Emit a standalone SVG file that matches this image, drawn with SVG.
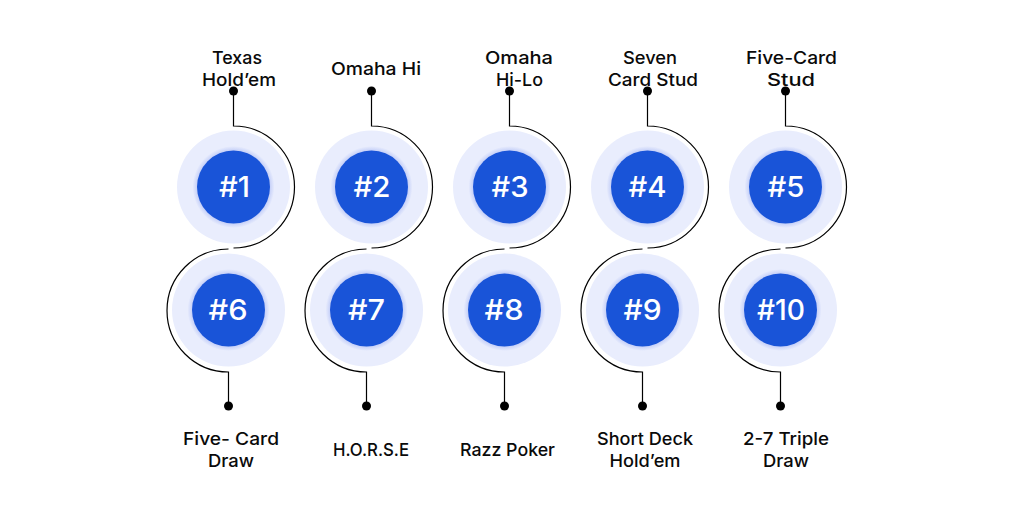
<svg xmlns="http://www.w3.org/2000/svg" width="1024" height="518" viewBox="0 0 1024 518">
<defs>
<style>
.halo{fill:#e9edfd}
.core{fill:#1954d8}
.num{font:500 28px Inter,"Noto Sans",sans-serif;fill:#fff;text-anchor:middle}
.lbl{font:450 17.500px Inter,"Noto Sans",sans-serif;fill:#0a0a0a;text-anchor:middle}
.wire{fill:none;stroke:#000;stroke-width:1.2}
.dot{fill:#000}
</style>
<radialGradient id="glow"><stop offset="0.88" stop-color="#c3cef8"/><stop offset="1" stop-color="#e9edfd"/></radialGradient>
<g id="top-wire"><path class="wire" d="M0 91V126A61 61 0 0 1 0 248"/><circle class="dot" cx="0" cy="91" r="4.500"/></g>
<g id="bot-wire"><path class="wire" d="M0 406V372A61.500 61.500 0 0 1 0 249"/><circle class="dot" cx="0" cy="406" r="4.500"/></g>
</defs>
<rect width="1024" height="518" fill="#fff"/>
<g id="connectors">
<use href="#top-wire" x="233.500"/><use href="#top-wire" x="371.500"/><use href="#top-wire" x="509.500"/><use href="#top-wire" x="647.500"/><use href="#top-wire" x="785.500"/>
<use href="#bot-wire" x="228.500"/><use href="#bot-wire" x="366.500"/><use href="#bot-wire" x="504.500"/><use href="#bot-wire" x="642.500"/><use href="#bot-wire" x="780.500"/>
</g>
<g id="node-1"><circle class="halo" cx="233.500" cy="187" r="56.500"/><circle fill="url(#glow)" cx="233.500" cy="187" r="41"/><circle class="core" cx="233.500" cy="187" r="36.500"/><text class="num" x="234.500" y="197" textLength="31" lengthAdjust="spacingAndGlyphs">#1</text><text class="lbl" x="237" y="64" textLength="50" lengthAdjust="spacingAndGlyphs">Texas</text><text class="lbl" x="239" y="86" textLength="74" lengthAdjust="spacingAndGlyphs">Hold’em</text></g>
<g id="node-2"><circle class="halo" cx="371.500" cy="187" r="56.500"/><circle fill="url(#glow)" cx="371.500" cy="187" r="41"/><circle class="core" cx="371.500" cy="187" r="36.500"/><text class="num" x="372" y="197" textLength="37" lengthAdjust="spacingAndGlyphs">#2</text><text class="lbl" x="376" y="75" textLength="90" lengthAdjust="spacingAndGlyphs">Omaha Hi</text></g>
<g id="node-3"><circle class="halo" cx="509.500" cy="187" r="56.500"/><circle fill="url(#glow)" cx="509.500" cy="187" r="41"/><circle class="core" cx="509.500" cy="187" r="36.500"/><text class="num" x="510" y="197" textLength="37" lengthAdjust="spacingAndGlyphs">#3</text><text class="lbl" x="519" y="64" textLength="68" lengthAdjust="spacingAndGlyphs">Omaha</text><text class="lbl" x="519.500" y="86" textLength="47" lengthAdjust="spacingAndGlyphs">Hi-Lo</text></g>
<g id="node-4"><circle class="halo" cx="647.500" cy="187" r="56.500"/><circle fill="url(#glow)" cx="647.500" cy="187" r="41"/><circle class="core" cx="647.500" cy="187" r="36.500"/><text class="num" x="647.500" y="197" textLength="38" lengthAdjust="spacingAndGlyphs">#4</text><text class="lbl" x="650" y="64" textLength="54" lengthAdjust="spacingAndGlyphs">Seven</text><text class="lbl" x="653" y="86" textLength="90" lengthAdjust="spacingAndGlyphs">Card Stud</text></g>
<g id="node-5"><circle class="halo" cx="785.500" cy="187" r="56.500"/><circle fill="url(#glow)" cx="785.500" cy="187" r="41"/><circle class="core" cx="785.500" cy="187" r="36.500"/><text class="num" x="786" y="197" textLength="37" lengthAdjust="spacingAndGlyphs">#5</text><text class="lbl" x="791.500" y="64" textLength="91" lengthAdjust="spacingAndGlyphs">Five-Card</text><text class="lbl" x="791" y="86" textLength="48" lengthAdjust="spacingAndGlyphs">Stud</text></g>
<g id="node-6"><circle class="halo" cx="228.500" cy="310" r="56.500"/><circle fill="url(#glow)" cx="228.500" cy="310" r="41"/><circle class="core" cx="228.500" cy="310" r="36.500"/><text class="num" x="228" y="320" textLength="39" lengthAdjust="spacingAndGlyphs">#6</text><text class="lbl" x="231" y="445" textLength="96" lengthAdjust="spacingAndGlyphs">Five- Card</text><text class="lbl" x="231" y="467" textLength="46" lengthAdjust="spacingAndGlyphs">Draw</text></g>
<g id="node-7"><circle class="halo" cx="366.500" cy="310" r="56.500"/><circle fill="url(#glow)" cx="366.500" cy="310" r="41"/><circle class="core" cx="366.500" cy="310" r="36.500"/><text class="num" x="366.500" y="320" textLength="37" lengthAdjust="spacingAndGlyphs">#7</text><text class="lbl" x="371" y="456" textLength="76" lengthAdjust="spacingAndGlyphs">H.O.R.S.E</text></g>
<g id="node-8"><circle class="halo" cx="504.500" cy="310" r="56.500"/><circle fill="url(#glow)" cx="504.500" cy="310" r="41"/><circle class="core" cx="504.500" cy="310" r="36.500"/><text class="num" x="504" y="320" textLength="39" lengthAdjust="spacingAndGlyphs">#8</text><text class="lbl" x="507.500" y="456" textLength="95" lengthAdjust="spacingAndGlyphs">Razz Poker</text></g>
<g id="node-9"><circle class="halo" cx="642.500" cy="310" r="56.500"/><circle fill="url(#glow)" cx="642.500" cy="310" r="41"/><circle class="core" cx="642.500" cy="310" r="36.500"/><text class="num" x="642.500" y="320" textLength="38" lengthAdjust="spacingAndGlyphs">#9</text><text class="lbl" x="645" y="445" textLength="96" lengthAdjust="spacingAndGlyphs">Short Deck</text><text class="lbl" x="645" y="467" textLength="71" lengthAdjust="spacingAndGlyphs">Hold’em</text></g>
<g id="node-10"><circle class="halo" cx="780.500" cy="310" r="56.500"/><circle fill="url(#glow)" cx="780.500" cy="310" r="41"/><circle class="core" cx="780.500" cy="310" r="36.500"/><text class="num" x="781" y="320" textLength="48" lengthAdjust="spacingAndGlyphs">#10</text><text class="lbl" x="786" y="445" textLength="86" lengthAdjust="spacingAndGlyphs">2-7 Triple</text><text class="lbl" x="786" y="467" textLength="46" lengthAdjust="spacingAndGlyphs">Draw</text></g>
</svg>
